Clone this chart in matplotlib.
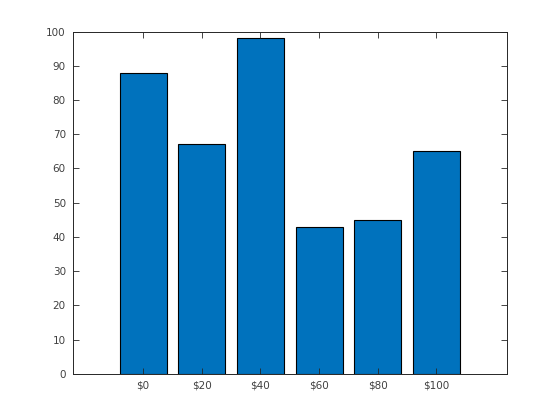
import matplotlib
matplotlib.use("Agg")
import matplotlib.pyplot as plt

labels = ["$0", "$20", "$40", "$60", "$80", "$100"]
values = [88, 67, 98, 43, 45, 65]

fig = plt.figure(figsize=(5.6, 4.2), dpi=100)
ax = fig.add_axes([0.13, 0.11, 0.775, 0.815])

pos = list(range(len(values)))
ax.bar(pos, values, width=0.8, color="#0072BD", edgecolor="black", linewidth=0.8)

ax.set_xlim(-1.2, 6.2)
ax.set_ylim(0, 100)
ax.set_yticks(range(0, 101, 10))
ax.set_xticks(pos)
ax.set_xticklabels([l.replace("$", r"\$") for l in labels])

ax.tick_params(direction="in", top=True, right=True, length=4, width=0.6,
               labelsize=7.5, labelcolor="#404040", color="#262626", pad=5)
for s in ax.spines.values():
    s.set_linewidth(0.7)
    s.set_color("#262626")

fig.savefig("out.png", dpi=100, facecolor="white")
